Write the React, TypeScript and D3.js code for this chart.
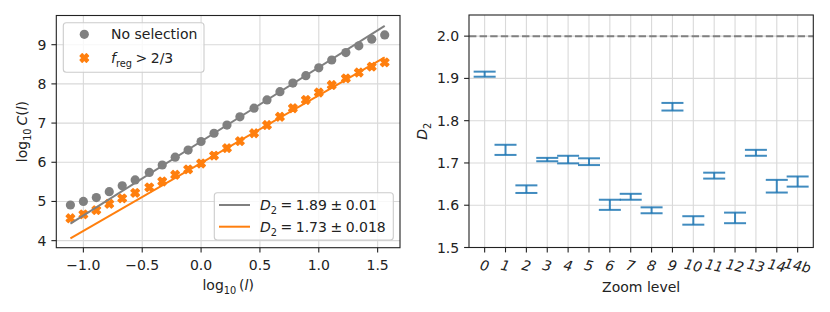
import React, { useRef, useEffect } from "react";
import { select, scaleLinear, line, format } from "d3";

// left panel: correlation sum vs length scale
const logL = [
  -1.11, -1.0, -0.89, -0.78, -0.67, -0.56, -0.44, -0.33, -0.22, -0.11, 0.0,
  0.11, 0.22, 0.33, 0.45, 0.56, 0.67, 0.78, 0.89, 1.0, 1.11, 1.23, 1.34, 1.45,
  1.56,
];
const noSelection = [
  4.91, 5.0, 5.1, 5.25, 5.4, 5.55, 5.74, 5.93, 6.13, 6.31, 6.53, 6.74, 6.95,
  7.16, 7.38, 7.59, 7.8, 8.02, 8.21, 8.41, 8.61, 8.8, 8.97, 9.14, 9.25,
];
const fRegSelection = [
  4.57, 4.67, 4.78, 4.94, 5.08, 5.22, 5.36, 5.51, 5.68, 5.82, 5.97, 6.17, 6.36,
  6.54, 6.74, 6.95, 7.16, 7.38, 7.59, 7.78, 7.97, 8.14, 8.29, 8.44, 8.55,
];
const fitSlopes = [1.89, 1.73];
const fitIntercepts = [6.53, 5.98];
const fitErrors = ["0.01", "0.018"];
const leftXTicks = [-1.0, -0.5, 0.0, 0.5, 1.0, 1.5];
const leftYTicks = [4, 5, 6, 7, 8, 9];

// right panel: D2 per zoom level
const zoomLevels = [
  "0", "1", "2", "3", "4", "5", "6", "7", "8", "9", "10", "11", "12", "13", "14", "14b",
];
const d2Values = [
  1.91, 1.731, 1.638, 1.708, 1.708, 1.703, 1.601, 1.62, 1.588, 1.833, 1.564,
  1.67, 1.57, 1.724, 1.645, 1.656,
];
const d2Errors = [
  0.006, 0.012, 0.009, 0.004, 0.009, 0.008, 0.012, 0.007, 0.007, 0.009, 0.01,
  0.007, 0.0125, 0.007, 0.015, 0.012,
];
const rightYTicks = [1.5, 1.6, 1.7, 1.8, 1.9, 2.0];
const referenceD2 = 2.0;

const GRAY = "#808080";
const ORANGE = "#ff7f0e";
const BLUE = "#1f77b4";
const INK = "#222";
const GRID = "#d9d9d9";
const FS = 14;
const FONT = "DejaVu Sans, sans-serif";
const MSP = "\u2005"; // math-ish spacing around relations

type Part = { t: string; it?: boolean; sub?: boolean };

// crude mathtext: italic runs and subscripts via tspans
function mathText(sel: any, parts: Part[]) {
  let down = false;
  parts.forEach((p) => {
    const ts = sel.append("tspan").text(p.t);
    if (p.it) ts.attr("font-style", "italic");
    if (p.sub) {
      ts.attr("font-size", FS * 0.7);
      if (!down) ts.attr("dy", 4);
      down = true;
    } else if (down) {
      ts.attr("dy", -4);
      down = false;
    }
  });
}

// filled "X" marker outline (same shape matplotlib uses)
function xMarkerPath(s: number) {
  const pts = [
    [-1, -2], [0, -1], [1, -2], [2, -1], [1, 0], [2, 1],
    [1, 2], [0, 1], [-1, 2], [-2, 1], [-1, 0], [-2, -1],
  ];
  return "M" + pts.map(([a, b]) => `${(a / 4) * s},${(b / 4) * s}`).join("L") + "Z";
}

const App: React.FC = () => {
  const svgRef = useRef<SVGSVGElement>(null);

  useEffect(() => {
    if (!svgRef.current) return;
    const svg = select(svgRef.current);
    svg.selectAll("*").remove();
    svg.attr("font-family", FONT).attr("font-size", FS);

    // ---------- left panel ----------
    const L = { left: 56.3, right: 400, top: 15.5, bottom: 247.7 };
    const x = scaleLinear().domain([-1.23, 1.69]).range([L.left, L.right]);
    const y = scaleLinear().domain([3.82, 9.745]).range([L.bottom, L.top]);
    const gl = svg.append("g");

    gl.selectAll(".gx")
      .data(leftXTicks)
      .enter()
      .append("line")
      .attr("x1", (d) => x(d))
      .attr("x2", (d) => x(d))
      .attr("y1", L.top)
      .attr("y2", L.bottom)
      .attr("stroke", GRID)
      .attr("stroke-width", 1.1);
    gl.selectAll(".gy")
      .data(leftYTicks)
      .enter()
      .append("line")
      .attr("x1", L.left)
      .attr("x2", L.right)
      .attr("y1", (d) => y(d))
      .attr("y2", (d) => y(d))
      .attr("stroke", GRID)
      .attr("stroke-width", 1.1);

    gl.selectAll(".dot")
      .data(logL)
      .enter()
      .append("circle")
      .attr("cx", (d) => x(d))
      .attr("cy", (d, i) => y(noSelection[i]))
      .attr("r", 4.6)
      .attr("fill", GRAY);

    const xPath = xMarkerPath(8.4);
    gl.selectAll(".xm")
      .data(logL)
      .enter()
      .append("path")
      .attr("d", xPath)
      .attr("transform", (d, i) => `translate(${x(d)},${y(fRegSelection[i])})`)
      .attr("fill", ORANGE)
      .attr("stroke", ORANGE)
      .attr("stroke-width", 1.4)
      .attr("stroke-linejoin", "round");

    const fitColors = [GRAY, ORANGE];
    const xEnds = [logL[0], logL[logL.length - 1]];
    fitSlopes.forEach((m, k) => {
      const fitLine = line<number>()
        .x((d) => x(d))
        .y((d) => y(m * d + fitIntercepts[k]));
      gl.append("path")
        .datum(xEnds)
        .attr("d", fitLine)
        .attr("fill", "none")
        .attr("stroke", fitColors[k])
        .attr("stroke-width", 2);
    });

    gl.append("rect")
      .attr("x", L.left)
      .attr("y", L.top)
      .attr("width", L.right - L.left)
      .attr("height", L.bottom - L.top)
      .attr("fill", "none")
      .attr("stroke", INK)
      .attr("stroke-width", 1.1);

    const f1 = format(".1f");
    leftXTicks.forEach((t) => {
      gl.append("line")
        .attr("x1", x(t)).attr("x2", x(t))
        .attr("y1", L.bottom).attr("y2", L.bottom + 4.9)
        .attr("stroke", INK).attr("stroke-width", 1.1);
      gl.append("text")
        .attr("x", x(t)).attr("y", 269.5)
        .attr("text-anchor", "middle").attr("fill", INK)
        .text(f1(t));
    });
    leftYTicks.forEach((t) => {
      gl.append("line")
        .attr("x1", L.left - 4.9).attr("x2", L.left)
        .attr("y1", y(t)).attr("y2", y(t))
        .attr("stroke", INK).attr("stroke-width", 1.1);
      gl.append("text")
        .attr("x", L.left - 9.8).attr("y", y(t) + 5)
        .attr("text-anchor", "end").attr("fill", INK)
        .text(String(t));
    });

    const xl = gl.append("text")
      .attr("x", (L.left + L.right) / 2).attr("y", 289.5)
      .attr("text-anchor", "middle").attr("fill", INK);
    mathText(xl, [
      { t: "log" },
      { t: "10", sub: true },
      { t: "\u2009(" },
      { t: "l", it: true },
      { t: ")" },
    ]);
    const yl = gl.append("text")
      .attr("transform", `translate(27,${(L.top + L.bottom) / 2}) rotate(-90)`)
      .attr("text-anchor", "middle").attr("fill", INK);
    mathText(yl, [
      { t: "log" },
      { t: "10", sub: true },
      { t: "\u2009" },
      { t: "C", it: true },
      { t: "(" },
      { t: "l", it: true },
      { t: ")" },
    ]);

    // legend: markers
    gl.append("rect")
      .attr("x", 63.3).attr("y", 22.7).attr("width", 140.7).attr("height", 49.6)
      .attr("rx", 3).attr("fill", "#fff").attr("fill-opacity", 0.8)
      .attr("stroke", "#cccccc").attr("stroke-width", 1.1);
    gl.append("circle").attr("cx", 84.3).attr("cy", 34.3).attr("r", 4.6).attr("fill", GRAY);
    gl.append("text").attr("x", 111).attr("y", 39.3).attr("fill", INK).text("No selection");
    gl.append("path")
      .attr("d", xPath)
      .attr("transform", "translate(84.3,58)")
      .attr("fill", ORANGE).attr("stroke", ORANGE)
      .attr("stroke-width", 1.4).attr("stroke-linejoin", "round");
    const lg2 = gl.append("text").attr("x", 111).attr("y", 63).attr("fill", INK);
    mathText(lg2, [
      { t: "f", it: true },
      { t: "reg", sub: true },
      { t: `${MSP}>${MSP}2/3` },
    ]);

    // legend: fits
    gl.append("rect")
      .attr("x", 214.3).attr("y", 192.7).attr("width", 179).attr("height", 47.3)
      .attr("rx", 3).attr("fill", "#fff").attr("fill-opacity", 0.8)
      .attr("stroke", "#cccccc").attr("stroke-width", 1.1);
    const rowY = [205, 226.7];
    fitSlopes.forEach((m, k) => {
      gl.append("line")
        .attr("x1", 219).attr("x2", 250)
        .attr("y1", rowY[k]).attr("y2", rowY[k])
        .attr("stroke", fitColors[k]).attr("stroke-width", 2);
      const t = gl.append("text").attr("x", 260).attr("y", rowY[k] + 5).attr("fill", INK);
      mathText(t, [
        { t: "D", it: true },
        { t: "2", sub: true },
        { t: `${MSP}=${MSP}${m.toFixed(2)}${MSP}\u00b1${MSP}${fitErrors[k]}` },
      ]);
    });

    // ---------- right panel ----------
    const R = { left: 469, right: 813.3, top: 15, bottom: 247.5 };
    const xr = scaleLinear().domain([-0.75, 15.75]).range([R.left, R.right]);
    const yr = scaleLinear().domain([1.5, 2.05]).range([R.bottom, R.top]);
    const gr = svg.append("g");

    gr.selectAll(".gx")
      .data(zoomLevels)
      .enter()
      .append("line")
      .attr("x1", (d, i) => xr(i))
      .attr("x2", (d, i) => xr(i))
      .attr("y1", R.top)
      .attr("y2", R.bottom)
      .attr("stroke", GRID)
      .attr("stroke-width", 1.1);
    gr.selectAll(".gy")
      .data(rightYTicks)
      .enter()
      .append("line")
      .attr("x1", R.left)
      .attr("x2", R.right)
      .attr("y1", (d) => yr(d))
      .attr("y2", (d) => yr(d))
      .attr("stroke", GRID)
      .attr("stroke-width", 1.1);

    gr.append("line")
      .attr("x1", R.left).attr("x2", R.right)
      .attr("y1", yr(referenceD2)).attr("y2", yr(referenceD2))
      .attr("stroke", GRAY).attr("stroke-width", 2)
      .attr("stroke-dasharray", "7.4 3.2");

    const cap = 11;
    const bars = gr.selectAll(".eb")
      .data(d2Values)
      .enter()
      .append("g")
      .attr("stroke", BLUE)
      .attr("stroke-opacity", 0.85)
      .attr("stroke-width", 2);
    bars.append("line")
      .attr("x1", (d, i) => xr(i)).attr("x2", (d, i) => xr(i))
      .attr("y1", (d, i) => yr(d - d2Errors[i]))
      .attr("y2", (d, i) => yr(d + d2Errors[i]));
    bars.append("line")
      .attr("x1", (d, i) => xr(i) - cap).attr("x2", (d, i) => xr(i) + cap)
      .attr("y1", (d, i) => yr(d - d2Errors[i]))
      .attr("y2", (d, i) => yr(d - d2Errors[i]));
    bars.append("line")
      .attr("x1", (d, i) => xr(i) - cap).attr("x2", (d, i) => xr(i) + cap)
      .attr("y1", (d, i) => yr(d + d2Errors[i]))
      .attr("y2", (d, i) => yr(d + d2Errors[i]));

    gr.append("rect")
      .attr("x", R.left)
      .attr("y", R.top)
      .attr("width", R.right - R.left)
      .attr("height", R.bottom - R.top)
      .attr("fill", "none")
      .attr("stroke", INK)
      .attr("stroke-width", 1.1);

    zoomLevels.forEach((z, i) => {
      gr.append("line")
        .attr("x1", xr(i)).attr("x2", xr(i))
        .attr("y1", R.bottom).attr("y2", R.bottom + 4.9)
        .attr("stroke", INK).attr("stroke-width", 1.1);
      gr.append("text")
        .attr("transform", `translate(${xr(i)},265.5) rotate(12)`)
        .attr("dy", "0.36em")
        .attr("text-anchor", "middle")
        .attr("font-style", "italic")
        .attr("fill", INK)
        .text(z);
    });
    rightYTicks.forEach((t) => {
      gr.append("line")
        .attr("x1", R.left - 4.9).attr("x2", R.left)
        .attr("y1", yr(t)).attr("y2", yr(t))
        .attr("stroke", INK).attr("stroke-width", 1.1);
      gr.append("text")
        .attr("x", R.left - 9.8).attr("y", yr(t) + 5)
        .attr("text-anchor", "end").attr("fill", INK)
        .text(f1(t));
    });

    gr.append("text")
      .attr("x", (R.left + R.right) / 2).attr("y", 292)
      .attr("text-anchor", "middle").attr("fill", INK)
      .text("Zoom level");
    const yl2 = gr.append("text")
      .attr("transform", `translate(427,${(R.top + R.bottom) / 2}) rotate(-90)`)
      .attr("text-anchor", "middle").attr("fill", INK);
    mathText(yl2, [{ t: "D", it: true }, { t: "2", sub: true }]);
  }, []);

  return (
    <div style={{ position: "absolute", left: 0, top: 0, background: "#fff" }}>
      <svg ref={svgRef} width={830} height={312} style={{ display: "block" }} />
    </div>
  );
};

export default App;
